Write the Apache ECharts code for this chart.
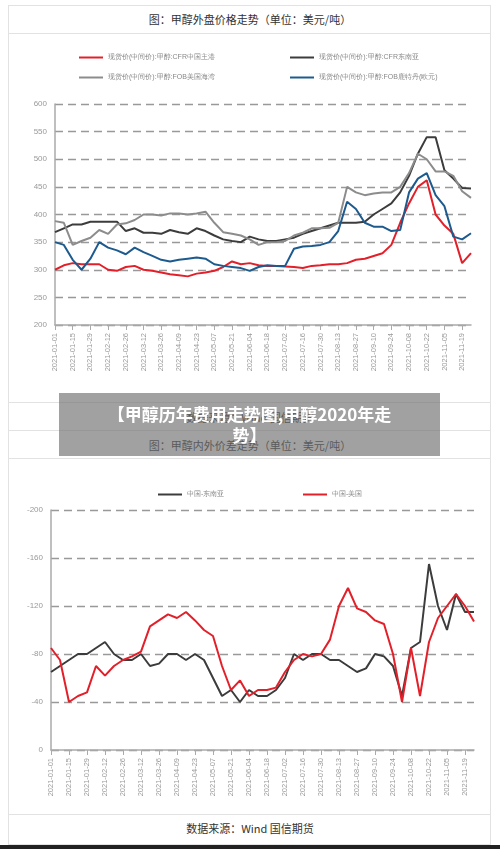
<!DOCTYPE html>
<html><head><meta charset="utf-8">
<script src="https://cdn.jsdelivr.net/npm/echarts@6/dist/echarts.min.js"></script>
<style>
body{margin:0;width:500px;height:849px;background:#fff;font-family:"Noto Sans CJK SC","Noto Sans",sans-serif;position:relative;overflow:hidden}
.box{position:absolute;left:8px;width:483px;border:1px solid #e2e2e2;box-sizing:border-box}
.t{position:absolute;left:8px;width:484px;text-align:center;color:#333;font-size:11px}
#banner{position:absolute;left:59px;top:393px;width:381px;height:63px;background:rgba(110,110,110,0.65);color:#fff;font-weight:bold;font-size:17px;line-height:21px;text-align:center;padding-top:10px;box-sizing:border-box}
#bottom{position:absolute;left:0;top:845px;width:500px;height:4px;background:#222}
</style></head><body>
<div class="box" style="top:5px;height:426px"></div>
<div class="box" style="top:33px;height:370px;border-left:none;border-right:none"></div>
<div class="box" style="top:430px;height:415px"></div>
<div class="box" style="top:458px;height:357px;border-left:none;border-right:none"></div>
<div class="t" style="top:11px">图：甲醇外盘价格走势（单位：美元/吨）</div>
<div class="t" style="top:409px">数据来源：Wind 国信期货</div>
<div class="t" style="top:437px">图：甲醇内外价差走势（单位：美元/吨）</div>
<div class="t" style="top:820px">数据来源：Wind 国信期货</div>
<div id="c1" style="position:absolute;left:8px;top:34px;width:484px;height:368px"></div>
<div id="c2" style="position:absolute;left:8px;top:458px;width:484px;height:356px"></div>
<div id="banner">【甲醇历年费用走势图,甲醇2020年走<br>势】</div>
<div id="bottom"></div>
<script>
const dates = ["2021-01-01","2021-01-08","2021-01-15","2021-01-22","2021-01-29","2021-02-05","2021-02-12","2021-02-19","2021-02-26","2021-03-05","2021-03-12","2021-03-19","2021-03-26","2021-04-02","2021-04-09","2021-04-16","2021-04-23","2021-04-30","2021-05-07","2021-05-14","2021-05-21","2021-05-28","2021-06-04","2021-06-11","2021-06-18","2021-06-25","2021-07-02","2021-07-09","2021-07-16","2021-07-23","2021-07-30","2021-08-06","2021-08-13","2021-08-20","2021-08-27","2021-09-03","2021-09-10","2021-09-17","2021-09-24","2021-10-01","2021-10-08","2021-10-15","2021-10-22","2021-10-29","2021-11-05","2021-11-12","2021-11-19","2021-11-26"];
const cfrChina = [300,308,312,310,310,310,300,298,305,307,300,298,295,292,290,288,293,295,298,305,315,310,312,308,307,307,306,305,303,307,308,310,310,312,318,320,325,330,345,385,420,450,462,400,380,365,312,330];
const cfrSEA = [368,375,382,382,387,387,387,387,370,375,367,367,365,372,368,365,375,370,362,355,352,350,360,355,352,352,355,358,365,370,375,380,385,385,385,387,400,410,420,440,470,510,540,540,480,465,448,447];
const fobUSG = [388,385,345,352,358,372,365,382,384,390,400,400,398,402,402,400,402,405,385,368,365,362,355,345,350,350,352,362,367,375,375,376,385,450,440,435,438,440,440,450,475,510,500,478,478,470,442,430];
const fobRtm = [350,345,318,300,320,350,340,335,328,340,332,325,318,315,318,320,322,320,310,307,305,303,298,305,308,307,307,338,342,343,345,350,370,423,410,385,378,378,370,372,440,465,475,435,415,360,355,366];
const spreadSEA = [65,70,75,80,80,85,90,80,75,75,80,70,72,80,80,75,80,75,60,45,50,40,50,45,45,50,60,80,75,80,80,75,75,70,65,68,80,78,70,45,85,90,155,120,100,130,115,115];
const spreadUS = [85,75,40,45,48,70,62,70,75,78,82,103,108,113,110,115,108,100,95,70,50,58,45,50,50,52,65,75,80,78,80,92,120,135,118,115,108,105,80,40,85,45,90,110,120,130,120,107];
const ticks1 = [200,250,300,350,400,450,500,550,600];
const ticks2 = [0,40,80,120,160,200];

function mkLegend(name,left,top){return {data:[name],left:left,top:top,itemWidth:24,itemHeight:2,icon:'rect',textStyle:{fontSize:7,color:'#888'}};}
function xAxis(){return {type:'category',data:dates,boundaryGap:false,
  axisLine:{lineStyle:{color:'#aaa',width:1.5}},axisTick:{show:true,interval:1,lineStyle:{color:'#aaa'}},
  axisLabel:{interval:1,rotate:90,fontSize:7.5,color:'#999'}};}
function line(name,data,color){return {name:name,type:'line',data:data,showSymbol:false,lineStyle:{width:2,color:color},itemStyle:{color:color}};}
const dash={show:true,lineStyle:{type:[8,5],color:'#999',width:1.3}};

const n1=["现货价(中间价):甲醇:CFR中国主港","现货价(中间价):甲醇:CFR东南亚","现货价(中间价):甲醇:FOB美国海湾","现货价(中间价):甲醇:FOB鹿特丹(欧元)"];
const c1=echarts.init(document.getElementById('c1'));
c1.setOption({animation:false,
 legend:[mkLegend(n1[0],66,15),mkLegend(n1[1],277,15),mkLegend(n1[2],66,35),mkLegend(n1[3],277,35)],
 grid:{left:47,right:21,top:70,bottom:77},
 xAxis:xAxis(),
 yAxis:{type:'value',min:ticks1[0],max:ticks1[ticks1.length-1],interval:50,splitLine:dash,
  axisLine:{show:true,lineStyle:{color:'#aaa',width:1.5}},axisLabel:{fontSize:8,color:'#999'}},
 series:[line(n1[0],cfrChina,'#e3202a'),line(n1[1],cfrSEA,'#3c3c3c'),line(n1[2],fobUSG,'#8c8c8c'),line(n1[3],fobRtm,'#1d5a8e')]
});
const n2=["中国-东南亚","中国-美国"];
const c2=echarts.init(document.getElementById('c2'));
c2.setOption({animation:false,
 legend:[mkLegend(n2[0],145,28),mkLegend(n2[1],290,28)],
 grid:{left:43,right:18,top:52,bottom:64},
 xAxis:xAxis(),
 yAxis:{type:'value',min:ticks2[0],max:ticks2[ticks2.length-1],interval:40,splitLine:dash,
  axisLine:{show:true,lineStyle:{color:'#aaa',width:1.5}},axisLabel:{fontSize:8,color:'#999',formatter:v=>v===0?'0':'-'+v}},
 series:[line(n2[0],spreadSEA,'#3c3c3c'),line(n2[1],spreadUS,'#e3202a')]
});
</script></body></html>
